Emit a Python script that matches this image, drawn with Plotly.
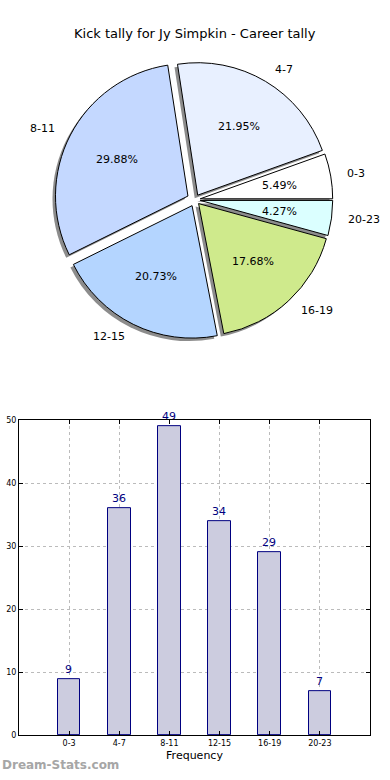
import math
import plotly.graph_objects as go

categories = ["0-3", "4-7", "8-11", "12-15", "16-19", "20-23"]
counts = [9, 36, 49, 34, 29, 7]
pie_colors = ["#ffffff", "#e8f0ff", "#c4d8ff", "#b4d5ff", "#cfea8c", "#dbffff"]
explode = [0.04, 0.04, 0.06, 0.05, 0.04, 0.04]
title_text = "Kick tally for Jy Simpkin - Career tally"
y_ticks = [0, 10, 20, 30, 40, 50]

W, H = 390, 780
cx, cy = 195, 198  # pie centre in px from top
r = 134
pmax = max(explode)
half = r * (1 + pmax)
total = sum(counts)
# plotly's counterclockwise pies end the first slice at the rotation angle;
# shift so that the first slice starts at 3 o'clock like matplotlib
rot = 90 - counts[0] / total * 360

def fy(py):
    return (H - py) / H

def dom(ox=0.0, oy=0.0):
    return dict(
        x=[(cx - half + ox) / W, (cx + half + ox) / W],
        y=[fy(cy + half + oy), fy(cy - half + oy)],
    )

fig = go.Figure()
# shadow pie
fig.add_trace(go.Pie(
    labels=categories, values=counts, sort=False, direction="counterclockwise",
    rotation=rot, pull=explode, domain=dom(-3, 3),
    marker=dict(colors=["rgba(0,0,0,0.45)"] * len(counts), line=dict(width=0)),
    textinfo="none", hoverinfo="skip", showlegend=False,
))
fig.add_trace(go.Pie(
    labels=categories, values=counts, sort=False, direction="counterclockwise",
    rotation=rot, pull=explode, domain=dom(),
    marker=dict(colors=pie_colors, line=dict(color="black", width=1)),
    textinfo="none", hoverinfo="label+percent", showlegend=False,
))

annotations = []
cum = 0.0
for lab, v, e in zip(categories, counts, explode):
    a0 = cum / total * 360
    cum += v
    a1 = cum / total * 360
    mid = math.radians((a0 + a1) / 2)
    c, s = math.cos(mid), math.sin(mid)
    px_ = cx + (0.6 + e) * r * c
    py_ = cy - (0.6 + e) * r * s
    annotations.append(dict(
        x=px_ / W, y=fy(py_), xref="paper", yref="paper",
        text="%.2f%%" % (v / total * 100), showarrow=False,
        xanchor="center", yanchor="middle",
        font=dict(family="DejaVu Sans", size=11, color="black"),
    ))
    lx = cx + (1.1 + e) * r * c
    ly = cy - (1.1 + e) * r * s
    annotations.append(dict(
        x=lx / W, y=fy(ly), xref="paper", yref="paper",
        text=lab, showarrow=False,
        xanchor="left" if c > 0 else "right", yanchor="middle",
        font=dict(family="DejaVu Sans", size=11, color="black"),
    ))

annotations.append(dict(
    x=0.5, y=fy(30), xref="paper", yref="paper", text=title_text,
    showarrow=False, xanchor="center", yanchor="middle",
    font=dict(family="DejaVu Sans", size=13, color="black"),
))
annotations.append(dict(
    x=0, y=fy(770), xref="paper", yref="paper", text="<b>Dream-Stats.com</b>",
    showarrow=False, xanchor="left", yanchor="middle",
    font=dict(family="DejaVu Sans", size=12, color="#a6a6a6"),
))

fig.add_trace(go.Bar(
    x=categories, y=counts, width=0.45,
    marker=dict(color="#ccccdf", line=dict(color="#000080", width=1)),
    text=[str(v) for v in counts], textposition="outside", cliponaxis=False,
    textfont=dict(family="DejaVu Sans", size=11, color="#000080"),
    xaxis="x", yaxis="y", showlegend=False,
))

fig.update_layout(
    width=W, height=H, margin=dict(l=0, r=0, t=0, b=0),
    paper_bgcolor="white", plot_bgcolor="white",
    annotations=annotations,
    xaxis=dict(
        domain=[19 / W, 370 / W], range=[-1, 6], type="category",
        showline=True, linecolor="black", linewidth=1, mirror="allticks",
        ticks="inside", ticklen=4, tickcolor="black",
        showgrid=True, gridcolor="#bbbbbb", griddash="dot", gridwidth=1,
        tickfont=dict(family="DejaVu Sans", size=8, color="black"),
        title=dict(text="Frequency", standoff=4,
                   font=dict(family="DejaVu Sans", size=11, color="black")),
        fixedrange=True, zeroline=False,
    ),
    yaxis=dict(
        domain=[fy(740), fy(421)], range=[0, 50],
        tickvals=y_ticks,
        showline=True, linecolor="black", linewidth=1, mirror="allticks",
        ticks="inside", ticklen=4, tickcolor="black",
        showgrid=True, gridcolor="#bbbbbb", griddash="dot", gridwidth=1,
        tickfont=dict(family="DejaVu Sans", size=8, color="black"),
        fixedrange=True, zeroline=False,
    ),
    bargap=0,
)

fig.write_html(
    "out.html",
    config={"displayModeBar": False},
    post_script=(
        "document.body.style.margin='0';document.body.style.padding='0';"
        "document.body.style.overflow='hidden';"
        "document.documentElement.style.overflow='hidden';"
    ),
)
